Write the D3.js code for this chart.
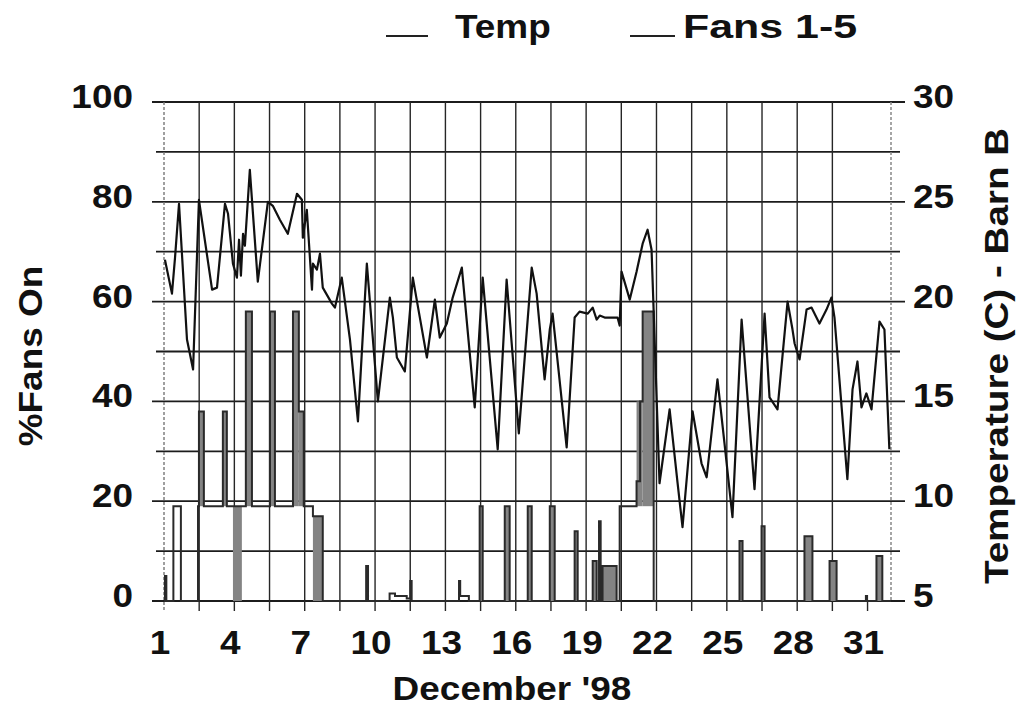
<!DOCTYPE html>
<html>
<head>
<meta charset="utf-8">
<script src="https://cdn.jsdelivr.net/npm/d3@7"></script>
<style>
  body { margin: 0; background: #fff; }
  text { font-family: "Liberation Sans", Arial, sans-serif; font-weight: bold; fill: #111; }
</style>
</head>
<body>
<svg id="chart" width="1018" height="714"></svg>
<script>
// temperature in barn B (day of December, deg C)
var tempDay = [1.04, 1.34, 1.47, 1.64, 1.98, 2.24, 2.49, 3.05, 3.26, 3.60, 3.73, 3.94, 4.11, 4.20, 4.28, 4.37, 4.45, 4.66,
  5.00, 5.43, 5.64, 5.94, 6.28, 6.67, 6.88, 6.92, 7.09, 7.31, 7.35, 7.52, 7.65, 7.77, 8.16, 8.29, 8.58, 8.93, 9.27,
  9.65, 10.12, 10.63, 10.76, 10.93, 11.27, 11.61, 11.91, 12.21, 12.55, 12.76, 13.06, 13.31, 13.70, 14.25, 14.59,
  15.23, 15.61, 16.13, 16.68, 16.89, 17.23, 17.45, 17.57, 18.17, 18.51, 18.72, 19.07, 19.28, 19.45, 19.58, 19.79,
  20.09, 20.34, 20.43, 20.51, 20.86, 21.15, 21.41, 21.62, 21.79, 22.13, 22.56, 22.90, 23.11, 23.54, 23.92, 24.14,
  24.60, 24.90, 25.24, 25.63, 26.18, 26.61, 26.82, 27.16, 27.59, 27.80, 27.89, 28.10, 28.40, 28.61, 28.95, 29.25,
  29.46, 29.59, 30.14, 30.36, 30.57, 30.74, 30.95, 31.17, 31.51, 31.72, 31.93];
var tempC = [22.1, 20.4, 22.2, 24.9, 18.1, 16.6, 25.1, 20.6, 20.7, 24.9, 24.4, 21.9, 21.2, 23.1, 21.3, 23.4, 22.8, 26.6,
  21.0, 25.0, 24.8, 24.1, 23.4, 25.4, 25.1, 23.2, 24.6, 20.6, 21.9, 21.6, 22.4, 20.7, 19.9, 19.7, 21.2, 18.1, 14.0,
  21.9, 15.0, 20.2, 19.2, 17.2, 16.5, 21.2, 19.2, 17.2, 20.1, 18.2, 18.9, 20.2, 21.7, 14.7, 21.2,
  12.6, 21.1, 13.4, 21.7, 20.4, 16.1, 18.6, 19.4, 12.7, 19.2, 19.5, 19.4, 19.7, 19.1, 19.3, 19.2,
  19.2, 19.2, 18.8, 21.5, 20.1, 21.5, 22.9, 23.6, 22.6, 10.9, 14.6, 10.9, 8.7, 14.5, 11.9, 11.2,
  16.1, 12.9, 9.2, 19.1, 10.6, 19.4, 15.2, 14.6, 20.0, 18.6, 17.9, 17.1, 19.6, 19.7, 18.9, 19.6,
  20.2, 19.2, 11.1, 15.6, 17.0, 14.7, 15.4, 14.6, 19.0, 18.6, 12.6];

// fans 1-5, percent on (step changes)
var fanDay = [1.00, 1.04, 1.10, 1.40, 1.72, 2.45, 2.49, 2.70, 3.51, 3.68, 4.49, 4.75, 5.52, 5.73, 6.50,
  6.75, 6.96, 7.35, 7.77, 9.62, 9.70, 10.62, 10.85, 11.35, 11.50, 11.56, 13.58, 13.63, 14.00, 14.46,
  14.59, 15.53, 15.74, 16.51, 16.68, 17.45, 17.66, 18.51, 18.64, 19.28, 19.45, 19.55, 19.62, 19.70, 20.30,
  20.43, 21.15, 21.30, 21.41, 21.88, 25.54, 25.67, 26.48, 26.61, 28.31, 28.65, 29.38, 29.68, 30.93, 30.98,
  31.38, 31.63, 32.00];
var fanPct = [0, 5, 0, 19, 0, 19, 38, 19, 38, 19, 58, 19, 58, 19, 58,
  38, 19, 17, 0, 7, 0, 1.5, 1, 0.5, 4, 0, 4, 1, 0, 19,
  0, 19, 0, 19, 0, 19, 0, 14, 0, 8, 0, 16, 0, 7, 0,
  19, 24, 40, 58, 0, 12, 0, 15, 0, 13, 0, 8, 0, 1, 0,
  9, 0, 0];

// stretches where the fans cycled quickly: start day, end day, low %, high %
var burstStart = [2.49, 3.51, 3.94, 4.49, 5.52, 6.50, 6.75, 7.35, 14.46, 15.53, 16.51, 17.45, 18.51, 19.28, 19.70, 21.15, 21.41, 25.54, 26.48, 28.31, 29.38, 31.38];
var burstEnd   = [2.70, 3.68, 4.32, 4.75, 5.73, 6.75, 6.96, 7.77, 14.59, 15.74, 16.68, 17.66, 18.64, 19.45, 20.30, 21.41, 21.88, 25.67, 26.61, 28.65, 29.68, 31.63];
var burstLow   = [19, 19, 0, 19, 19, 19, 19, 0, 0, 0, 0, 0, 0, 0, 0, 19, 19, 0, 0, 0, 0, 0];
var burstHigh  = [38, 38, 19, 58, 58, 58, 38, 17, 19, 19, 19, 19, 14, 8, 7, 40, 58, 12, 15, 13, 8, 9];

var dayLabels = [1, 4, 7, 10, 13, 16, 19, 22, 25, 28, 31];
var leftLabels = [0, 20, 40, 60, 80, 100];
var rightLabels = [5, 10, 15, 20, 25, 30];

var svg = d3.select("#chart");
var stretch = 1.12;

var x = d3.scaleLinear().domain([1, 32]).range([164, 891]);
var yL = d3.scaleLinear().domain([0, 100]).range([601, 102]);
var yR = d3.scaleLinear().domain([5, 30]).range([601, 102]);

// horizontal grid, every 10 %
svg.append("g")
  .selectAll("line")
  .data(d3.range(0, 101, 10))
  .enter()
  .append("line")
    .attr("x1", function(d) { return d % 20 === 0 ? 152 : 156; })
    .attr("x2", function(d) { return d % 20 === 0 ? 905 : 900; })
    .attr("y1", function(d) { return yL(d); })
    .attr("y2", function(d) { return yL(d); })
    .attr("stroke", "#1c1c1c")
    .attr("stroke-width", 1.8);

// vertical grid every 1.5 days, ticks below the axis
var gridDays = d3.range(1, 31.01, 1.5);
svg.append("g")
  .selectAll("line")
  .data(gridDays)
  .enter()
  .append("line")
    .attr("x1", function(d) { return x(d); })
    .attr("x2", function(d) { return x(d); })
    .attr("y1", function(d) { return d === 31 ? yL(0) : yL(100); })
    .attr("y2", 611)
    .attr("stroke", function(d) { return d === 1 ? "#777" : "#262626"; })
    .attr("stroke-dasharray", function(d) { return d === 1 ? "3,2" : null; })
    .attr("stroke-width", 1.4);

// right edge of plot (dotted)
svg.append("line")
  .attr("x1", x(32)).attr("x2", x(32))
  .attr("y1", yL(100)).attr("y2", yL(0))
  .attr("stroke", "#888")
  .attr("stroke-dasharray", "3,2")
  .attr("stroke-width", 1.5);

// fan cycling bursts
svg.append("g")
  .selectAll("rect")
  .data(d3.range(burstStart.length))
  .enter()
  .append("rect")
    .attr("x", function(i) { return x(burstStart[i]); })
    .attr("width", function(i) { return x(burstEnd[i]) - x(burstStart[i]); })
    .attr("y", function(i) { return yL(burstHigh[i]); })
    .attr("height", function(i) { return yL(burstLow[i]) - yL(burstHigh[i]); })
    .attr("fill", "#848484");

// fans step line
var fanLine = d3.line()
  .x(function(d) { return x(d[0]); })
  .y(function(d) { return yL(d[1]); })
  .curve(d3.curveStepAfter);
svg.append("path")
  .attr("d", fanLine(d3.zip(fanDay, fanPct)))
  .attr("fill", "none")
  .attr("stroke", "#2a2a2a")
  .attr("stroke-width", 2);

// temperature line
var tempLine = d3.line()
  .x(function(d) { return x(d[0]); })
  .y(function(d) { return yR(d[1]); });
svg.append("path")
  .attr("d", tempLine(d3.zip(tempDay, tempC)))
  .attr("fill", "none")
  .attr("stroke", "#111")
  .attr("stroke-width", 2.2)
  .attr("stroke-linejoin", "round");

function label(txt, tx, ty, anchor, rot, sx) {
  svg.append("text")
    .attr("transform", "translate(" + tx + "," + ty + ")" + (rot ? " rotate(" + rot + ")" : "") + " scale(" + (sx || stretch) + ",1)")
    .attr("text-anchor", anchor)
    .style("font-size", "33px")
    .text(txt);
}

leftLabels.forEach(function(v) { label(v, 133, yL(v) + 6, "end"); });
rightLabels.forEach(function(v) { label(v, 913, yR(v) + 6, "start"); });
dayLabels.forEach(function(v) { label(v, x(v) - 4, 654, "middle"); });

label("December '98", 512, 700, "middle");
label("%Fans On", 42, 356, "middle", -90);
label("Temperature (C) - Barn B", 1008, 356, "middle", -90, 1.17);

// legend
svg.append("line").attr("x1", 386).attr("x2", 428).attr("y1", 36).attr("y2", 36)
  .attr("stroke", "#222").attr("stroke-width", 2);
label("Temp", 455, 38, "start");
svg.append("line").attr("x1", 630).attr("x2", 675).attr("y1", 36).attr("y2", 36)
  .attr("stroke", "#222").attr("stroke-width", 2);
label("Fans 1-5", 683, 38, "start", 0, 1.3);
</script>
</body>
</html>
